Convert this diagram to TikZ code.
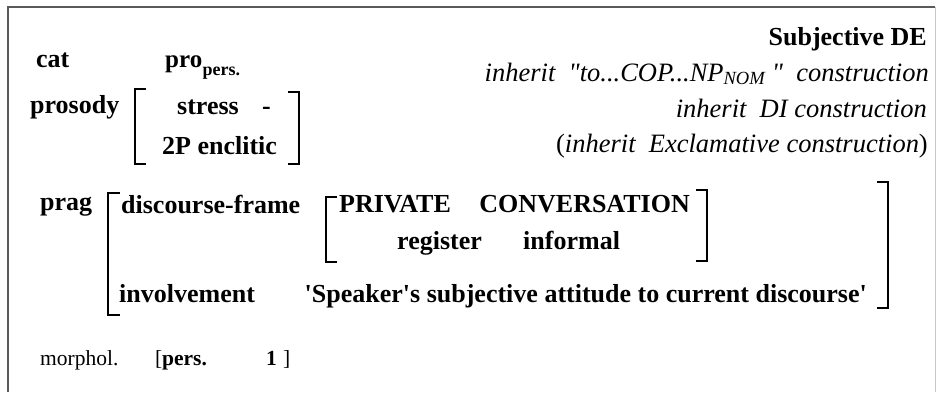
\documentclass[tikz,border=0pt]{standalone}
\usepackage{fontspec}
\setmainfont{Liberation Serif}[Ligatures=TeXOff]
\definecolor{framedark}{HTML}{5A5A5A}
\definecolor{framelight}{HTML}{C8C8C8}
\begin{document}
\begin{tikzpicture}[x=1pt,y=-1pt,
  lbl/.style={inner sep=0pt, anchor=base west, font=\fontsize{26}{30}\selectfont\bfseries},
  lblr/.style={inner sep=0pt, anchor=base east, font=\fontsize{26}{30}\selectfont\bfseries},
  itl/.style={inner sep=0pt, anchor=base east, font=\fontsize{26.5}{30}\selectfont},
  small/.style={inner sep=0pt, anchor=base west, font=\fontsize{21.5}{26}\selectfont},
  brk/.style={line width=2pt, line cap=butt}]
\useasboundingbox (0,0) rectangle (937,392);
% frame
\draw[framedark, line width=1.5pt] (8,392) -- (8,7) -- (935,7);
\draw[framelight, line width=1.5pt] (935.5,7) -- (935.5,392);

% cat / pro
\node[lbl] (cat) at (36,67) {cat};
\node[lbl, font=\fontsize{25}{30}\selectfont\bfseries] (pro) at (165,67) {pro};
\node[small, font=\fontsize{18}{22}\selectfont\bfseries] (pers) at (pro.base east) [anchor=base west, yshift=-8pt] {pers.};

% prosody
\node[lbl] (prosody) at (30,113) {prosody};
\draw[brk] (146,89) -- (135,89) -- (135,164) -- (146,164);
\node[lbl] (stress) at (177,114) {stress};
\node[lbl] (dash) at (262,114) {-};
\node[lbl] (enclitic) at (162,154) {2P enclitic};
\draw[brk] (288,92) -- (299,92) -- (299,164) -- (288,164);

% right column
\node[lblr] (title) at (927,45) {Subjective DE};
\node[itl] (inh1) at (929,81) {\itshape inherit\ \ "to...COP...NP\textsubscript{NOM}\ "\ \ construction};
\node[itl] (inh2) at (927,117) {\itshape inherit\ \ DI construction};
\node[itl] (inh3) at (928,152) {(\textit{inherit\ \ Exclamative construction})};

% prag
\node[lbl] (prag) at (40,210) {prag};
\draw[brk] (120,193) -- (108,193) -- (108,315) -- (120,315);
\node[lbl] (dframe) at (121,213) {discourse-frame};
\draw[brk] (337,197) -- (326,197) -- (326,262) -- (337,262);
\node[lbl] (private) at (339,212) {PRIVATE};
\node[lblr] (conv) at (690,212) {CONVERSATION};
\node[lbl] (register) at (397,249) {register};
\node[lbl] (informal) at (523,249) {informal};
\draw[brk] (696,190) -- (707,190) -- (707,261) -- (696,261);
\node[lbl] (involve) at (119,302) {involvement};
\node[lblr] (speaker) at (867,302) {'Speaker's subjective attitude to current discourse'};
\draw[brk] (877,182) -- (888,182) -- (888,308) -- (877,308);

% morphol
\node[small] (morphol) at (40,365) {morphol.};
\node[small] (lb) at (155,365) {[};
\node[small, font=\fontsize{21.5}{26}\selectfont\bfseries] (pp) at (162,365) {pers.};
\node[small, font=\fontsize{21.5}{26}\selectfont\bfseries] (one) at (266,365) {1};
\node[small] (rb) at (283,365) {]};
\end{tikzpicture}
\end{document}
